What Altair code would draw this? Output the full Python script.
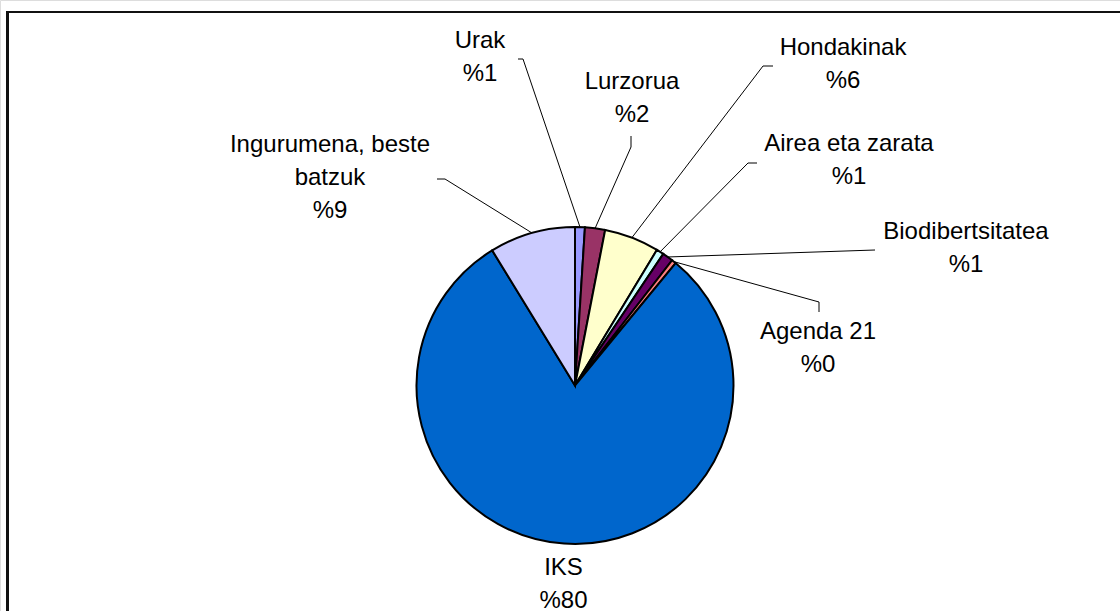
import math
import altair as alt
import pandas as pd

# ---- data ----
categories = ["Urak", "Lurzorua", "Hondakinak", "Airea eta zarata",
              "Biodibertsitatea", "Agenda 21", "IKS", "Ingurumena, beste batzuk"]
values = [1.0, 2.05, 5.6, 0.75, 1.1, 0.45, 80.3, 8.75]
label_names = ["Urak", "Lurzorua", "Hondakinak", "Airea eta zarata",
               "Biodibertsitatea", "Agenda 21", "IKS", "Ingurumena, beste\nbatzuk"]
colors = ["#9999FF", "#993366", "#FFFFCC", "#CCFFFF",
          "#660066", "#FF8080", "#0066CC", "#CCCCFF"]

# ---- layout (pixels) ----
CX, CY, R = 575, 385.5, 158.5
label_x = [480, 632, 843, 849, 966, 818, 563.5, 330]
label_y = [41, 82, 48, 144, 231.5, 332, 568, 145]
elbow = [(523, 59), (631, 147), (763, 66), (748, 163), (875, 250), (819, 302), None, (445, 179)]
tail = [(518, 59), (631, 136), (773, 66), (757, 163), (875, 250), (819, 312), None, (437, 179)]

total = sum(values)
pie_df = pd.DataFrame({"cat": categories, "value": values, "idx": range(len(values))})

lab_rows, line_rows = [], []
cum = 0.0
for i, (c, v) in enumerate(zip(categories, values)):
    mid = (cum + v / 2) / total * 2 * math.pi
    cum += v
    lab_rows.append({"txt": f"{label_names[i]}\n%{round(v)}", "x": label_x[i], "y": label_y[i]})
    if elbow[i] is None:
        continue
    sx, sy = CX + R * math.sin(mid), CY - R * math.cos(mid)
    for k, (px, py) in enumerate([(sx, sy), elbow[i], tail[i]]):
        line_rows.append({"cat": c, "k": k, "x": px, "y": py})

lab_df = pd.DataFrame(lab_rows)
line_df = pd.DataFrame(line_rows)

pie = alt.Chart(pie_df).mark_arc(outerRadius=R, stroke="black", strokeWidth=2).encode(
    theta=alt.Theta("value:Q", stack=True),
    order=alt.Order("idx:Q"),
    color=alt.Color("cat:N", scale=alt.Scale(domain=categories, range=colors), legend=None),
    x=alt.value(CX), y=alt.value(CY),
)

leaders = alt.Chart(line_df).mark_line(color="black", strokeWidth=1).encode(
    x=alt.X("x:Q", scale=None), y=alt.Y("y:Q", scale=None),
    detail="cat:N", order="k:Q",
)

labels = alt.Chart(lab_df).mark_text(
    font="Liberation Sans", fontSize=24, lineBreak="\n", lineHeight=33,
    align="center", baseline="middle", color="black",
).encode(x=alt.X("x:Q", scale=None), y=alt.Y("y:Q", scale=None), text="txt:N")

border = alt.Chart(pie_df).mark_rect(fillOpacity=0, stroke="#111", strokeWidth=2).encode(
    x=alt.value(7.5), x2=alt.value(1200), y=alt.value(12), y2=alt.value(800),
)

chart = alt.layer(border, pie, leaders, labels).properties(
    width=1120, height=611, padding=0, autosize=alt.AutoSizeParams(type="none"),
).configure_view(stroke=None).configure(background="white")

chart.save("out.html", embed_options={"renderer": "svg", "actions": False})
